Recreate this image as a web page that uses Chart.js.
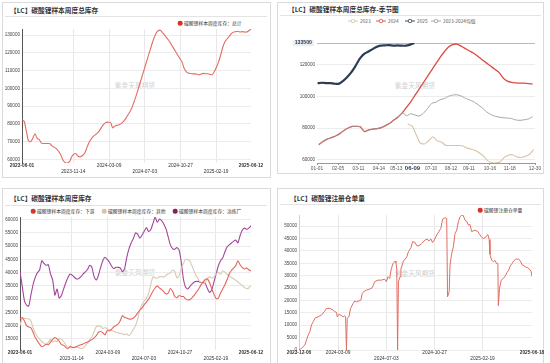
<!DOCTYPE html>
<html>
<head>
<meta charset="utf-8">
<script src="https://cdn.jsdelivr.net/npm/chart.js@4.4.1/dist/chart.umd.min.js"></script>
<style>
  body { margin: 0; width: 550px; height: 363px; overflow: hidden; background: #fff; position: relative;
         font-family: "Noto Sans CJK SC", "Liberation Sans", sans-serif; }
  .panel { position: absolute; border: 1px solid #dadada; box-sizing: border-box; }
  .title { position: absolute; font-size: 6.7px; font-weight: bold; color: #333; white-space: nowrap; line-height: 1; transform: translateY(-50%); }
  .sep { position: absolute; height: 0; border-top: 1px solid #e3e3e3; }
  .wm { position: absolute; font-size: 6.7px; color: #cfcfcf; white-space: nowrap; line-height: 1; transform: translate(-50%, -50%); }
  .leg { position: absolute; font-size: 4.8px; color: #333; white-space: nowrap; line-height: 1; transform: translateY(-50%); }
  .dot { position: absolute; width: 4.6px; height: 4.6px; border-radius: 50%; transform: translate(-50%, -50%); }
  .icon { position: absolute; transform: translate(-50%, -50%); }
  canvas { position: absolute; }
</style>
</head>
<body>
<!-- panel frames -->
<div class="panel" style="left:2px;top:2px;width:269px;height:176px"></div>
<div class="panel" style="left:277px;top:2px;width:267px;height:172px"></div>
<div class="panel" style="left:2px;top:188px;width:269px;height:180px"></div>
<div class="panel" style="left:277px;top:188px;width:267px;height:180px"></div>

<div class="title" style="left:10px;top:10px">【LC】碳酸锂样本周度总库存</div>
<div class="title" style="left:288px;top:9px">【LC】碳酸锂样本周度总库存-季节图</div>
<div class="title" style="left:10px;top:198px">【LC】碳酸锂样本周度库存</div>
<div class="title" style="left:290px;top:198px">【LC】碳酸锂注册仓单量</div>

<div class="sep" style="left:5px;top:16px;width:262px"></div>
<div class="sep" style="left:280px;top:15px;width:261px"></div>
<div class="sep" style="left:5px;top:205px;width:262px"></div>
<div class="sep" style="left:280px;top:204px;width:261px"></div>

<div class="wm" style="left:135px;top:85px">紫金天风期货</div>
<div class="wm" style="left:415px;top:85px">紫金天风期货</div>
<div class="wm" style="left:135px;top:272px">紫金天风期货</div>
<div class="wm" style="left:415px;top:273px">紫金天风期货</div>

<!-- legends -->
<div class="dot" style="left:180px;top:23px;background:#d7312a"></div>
<div class="leg" style="left:184px;top:23px">碳酸锂样本周度库存：总计</div>

<div class="dot" style="left:33px;top:211px;background:#d9352a"></div>
<div class="leg" style="left:37px;top:211px">碳酸锂样本周度库存：下游</div>
<div class="dot" style="left:104px;top:211px;background:#d6c3aa"></div>
<div class="leg" style="left:108px;top:211px">碳酸锂样本周度库存：其他</div>
<div class="dot" style="left:175px;top:211px;background:#8c1c5c"></div>
<div class="leg" style="left:179px;top:211px">碳酸锂样本周度库存：冶炼厂</div>

<div class="dot" style="left:480px;top:210px;background:#d7312a"></div>
<div class="leg" style="left:484px;top:210px">碳酸锂注册仓单量</div>

<div id="seasonLegend"></div>

<canvas id="c1" width="265" height="159" style="left:4px;top:17px"></canvas>
<canvas id="c2" width="263" height="155" style="left:279px;top:17px"></canvas>
<canvas id="c3" width="265" height="157" style="left:4px;top:206px"></canvas>
<canvas id="c4" width="268" height="158" style="left:279px;top:205px"></canvas>

<script>
// ---- data ----
// weekly sample inventory, every Thursday starting 2023-06-01
const totalStart = '2023-06-01';
const totalStock = [
  82500, 81500, 76000, 70500, 70000, 72000, 74500, 72000, 71200, 69200,
  69000, 69000, 69000, 68800, 67500, 66800, 66000, 64500, 62500, 59500,
  58200, 58000, 58800, 61500, 63000, 63200, 61800, 61500, 62200, 63500,
  66500, 69500, 71500, 73000, 74000, 75000, 76500, 78500, 80000, 81000,
  81000, 80800, 77800, 78800, 79300, 79600, 80300, 81500, 83000, 85000,
  87000, 89500, 93000, 96500, 100500, 104500, 108500, 112500, 116500, 120500,
  124500, 128000, 131000, 132500, 132800, 131500, 130000, 128500, 127000, 125000,
  123000, 121000, 119000, 117000, 115000, 111500, 109500, 108700, 108400, 108200,
  108200, 108000, 107700, 108200, 108500, 108300, 108300, 107900, 107800, 109500,
  112000, 115000, 119000, 123500, 126500, 128000, 129500, 131000, 131800, 132000,
  132200, 131800, 132000, 131800, 131800, 132500, 133500
];
const downstream = [
  22600, 23000, 21800, 20000, 19500, 19200, 17500, 15500, 14200, 13000,
  12000, 12400, 13000, 12800, 13800, 14800, 15500, 15000, 14100, 12800,
  12600, 11800, 11300, 12200, 11800, 11800, 12200, 12500, 12800, 13100,
  13500, 13800, 14300, 14700, 15400, 16200, 17500, 17800, 17300, 16500,
  18100, 18000, 18600, 19500, 20000, 20600, 21800, 23800, 23100, 22900,
  22500, 22500, 22900, 23600, 24800, 25800, 26700, 27900, 28900, 30000,
  31500, 33000, 34200, 35000, 34200, 33600, 32800, 32000, 32300, 34000,
  33000, 31000, 30500, 31400, 31000, 31000, 30100, 29700, 29900, 30600,
  31500, 32700, 33800, 35300, 36400, 37400, 37600, 36200, 33800, 31800,
  30200, 30300, 32300, 33800, 35400, 37300, 39500, 40800, 41700, 42600,
  44500, 43000, 41900, 41400, 41800, 41100, 40600
];
const others = [
  20000, 23000, 22800, 22600, 22600, 21800, 19200, 17200, 15900, 14900,
  14000, 13400, 12900, 13700, 14900, 13800, 14300, 13900, 15000, 14900,
  14000, 12800, 11700, 11700, 11800, 11700, 11800, 11700, 11300, 11500,
  12500, 13400, 14500, 15700, 17700, 19600, 19900, 19700, 18900, 19300,
  18800, 18500, 18200, 17900, 17500, 17300, 17000, 16900, 16600, 16900,
  16200, 17200, 18600, 20000, 22400, 26000, 28000, 29300, 30400, 32000,
  35500, 38400, 38000, 37900, 38500, 38500, 38300, 39000, 39600, 39800,
  41000, 40500, 38000, 38800, 41500, 43500, 45000, 44900, 44300, 42400,
  40300, 38600, 37200, 36400, 35900, 36400, 37700, 38400, 37900, 38400,
  39500, 40100, 39400, 40700, 40200, 39400, 38800, 38200, 37700, 37100,
  36500, 35800, 35100, 34400, 34000, 34200, 35200
];
const smelter = [
  40400, 35000, 29500, 27700, 27400, 31500, 35500, 38200, 40000, 41000,
  44500, 43500, 42800, 43000, 39500, 37200, 31500, 33800, 30400, 31400,
  33800, 36200, 38200, 39500, 39000, 38200, 37600, 37800, 38500, 39500,
  40300, 41200, 42800, 42000, 38500, 37200, 39000, 42000, 44500, 45800,
  45000, 44000, 42500, 41500, 42000, 42000, 41800, 40300, 41500, 45800,
  49000, 51200, 52800, 55000, 54500, 53000, 54200, 55600, 57000, 55500,
  56200, 58500, 61000, 59000, 60200, 59600, 58300, 56500, 53500, 50500,
  49100, 48800, 49500, 48500, 44000, 37500, 34500, 33800, 34800, 35800,
  36500, 36700, 36600, 36300, 36300, 36000, 34000, 32500, 33500, 36500,
  39500, 42500, 44500, 45500, 47800, 49700, 50500, 51200, 51800, 52300,
  51200, 54000, 56000, 56800, 56400, 56800, 57700
];
const dateTicks = ['2023-06-01', '2023-11-14', '2024-03-09', '2024-07-03', '2024-10-27', '2025-02-19', '2025-06-12'];
const totalYTicks = [60000, 70000, 80000, 90000, 100000, 110000, 120000, 130000];
const stockYTicks = [15000, 20000, 25000, 30000, 35000, 40000, 45000, 50000, 55000, 60000];

const seasonTicks = ['01-01', '02-05', '03-11', '04-14', '05-13', '06-09', '07-10', '08-12', '09-11', '10-16', '11-18', '12-30'];
const seasonYTicks = [60000, 80000, 100000, 120000, 133500];
const seasonNow = '06-09';

// registered warrants: day offsets from warrantStart and values
const warrantStart = '2023-12-06';
const warrantDays = [
  0, 6, 14, 22, 26, 30, 34, 39, 46, 54, 62, 66, 74, 82, 86, 90, 92, 96, 100, 106,
  110, 112, 114, 116, 120, 124, 130, 134, 138, 144, 149, 152, 157, 162, 170, 176, 182, 190, 198, 206,
  210, 214, 218, 222, 226, 231, 233, 235, 237, 239, 243, 245, 251, 255, 259, 263, 269, 273, 279, 283,
  288, 295, 303, 308, 312, 317, 321, 325, 331, 337, 341, 345, 351, 355, 357, 361, 363, 367, 371, 375,
  379, 383, 387, 391, 395, 399, 403, 407, 411, 415, 423, 430, 433, 438, 443, 447, 451, 454, 457, 459,
  463, 467, 471, 475, 478, 479, 482, 486, 492, 496, 500, 504, 508, 512, 516, 521, 528, 532, 536, 544,
  550, 556, 558, 560
];
const warrantValues = [
  0, 700, 2000, 6000, 7400, 10100, 11400, 13000, 13400, 14100, 15700, 16800, 16800, 16100, 15500, 15200, 13400, 14400, 14100, 13400,
  13800, 13400, 0, 12800, 13400, 16800, 18800, 19800, 19500, 19800, 20200, 22800, 23800, 24200, 24600, 25100, 27600, 28200, 28200, 28600,
  27600, 29600, 28900, 32900, 34900, 35900, 35300, 32700, 0, 27600, 29600, 32700, 35900, 36700, 37600, 39700, 41300, 43700, 43400, 42100,
  42100, 43000, 44400, 44800, 44000, 44800, 43400, 44400, 46400, 48000, 49100, 52800, 53400, 53100, 21500, 23500, 34300, 39000, 41700, 47000,
  48400, 51700, 53800, 54400, 54200, 52400, 52000, 50400, 50700, 47800, 48400, 47800, 47000, 45700, 45000, 45300, 46100, 46600, 44600, 38600,
  36300, 35600, 36200, 34900, 34900, 17900, 24900, 28200, 29000, 30000, 31300, 32300, 34000, 34900, 35900, 36700, 36700, 35900, 34500, 33600,
  33200, 32300, 31600, 29600
];
const warrantTicks = ['2023-12-06', '2024-03-09', '2024-07-03', '2024-10-27', '2025-02-19', '2025-06-18'];
const warrantYTicks = [0, 5000, 10000, 15000, 20000, 25000, 30000, 35000, 40000, 45000, 50000];

// ---- helpers ----
const DAY = 86400000;
const dayNum = s => { const [y, m, d] = s.split('-').map(Number); return Date.UTC(y, m - 1, d) / DAY; };
const fmtDay = n => new Date(n * DAY).toISOString().slice(0, 10);
const MONTH_START = [0, 31, 59, 90, 120, 151, 181, 212, 243, 273, 304, 334];
const seasonDay = md => { const [m, d] = md.split('-').map(Number); return MONTH_START[m - 1] + d - 1; };

Chart.defaults.font.family = '"Liberation Sans", Arial, sans-serif';
Chart.defaults.color = '#444';

const t0 = dayNum(totalStart);
const weekly = arr => arr.map((v, i) => ({ x: t0 + 7 * i, y: v }));

function dateScale(dates, lower) {
  const vals = dates.map(dayNum);
  const last = vals.length - 1;
  return {
    type: 'linear', min: vals[0], max: vals[last],
    afterBuildTicks: s => { s.ticks = vals.map(v => ({ value: v })); },
    afterFit: s => { s.height = 13; s.paddingLeft = 0; s.paddingRight = 0; },
    grid: { drawTicks: false, color: c => (c.index === 0 || c.index === last) ? 'rgba(0,0,0,0)' : '#e8e8e8' },
    border: { display: false },
    ticks: {
      autoSkip: false, maxRotation: 0, padding: 0, color: '#333',
      font: c => ({ size: 4.8, weight: (c.index === 0 || c.index === last) ? 'bold' : 'normal' }),
      callback: (v, i) => lower.includes(i) ? ['', fmtDay(v)] : fmtDay(v)
    }
  };
}

function valueScale(min, max, ticks, width, axisColor) {
  return {
    min, max,
    afterBuildTicks: s => { s.ticks = ticks.map(v => ({ value: v })); },
    afterFit: s => { s.width = width; s.paddingTop = 0; s.paddingBottom = 0; },
    grid: { drawTicks: false, color: '#ececec' },
    border: { display: !!axisColor, color: axisColor || '#ccc', width: 1 },
    ticks: { padding: 2, color: '#444', font: { size: 4.6 }, callback: v => String(v) }
  };
}

function line(data, color, width, tension) {
  return { data, borderColor: color, backgroundColor: color, borderWidth: width, pointRadius: 0, tension: tension, fill: false };
}

function baseOptions(pad) {
  return {
    responsive: false, animation: false, events: [],
    layout: { padding: pad },
    plugins: { legend: { display: false }, tooltip: { enabled: false } }
  };
}

// ---- chart 1: total stock ----
new Chart(document.getElementById('c1'), {
  type: 'line',
  data: { datasets: [line(weekly(totalStock), '#e36c63', 1.1, 0.25)] },
  options: Object.assign(baseOptions({ left: 0, top: 12, right: 18, bottom: 0 }), {
    scales: {
      x: dateScale(dateTicks, [1, 3, 5]),
      y: valueScale(Math.min(...totalStock), Math.max(...totalStock), totalYTicks, 18, '#555')
    }
  })
});

// ---- chart 2: seasonal ----
const byYear = { 2023: [], 2024: [], 2025: [] };
totalStock.forEach((v, i) => {
  const s = fmtDay(t0 + 7 * i);
  byYear[s.slice(0, 4)].push({ x: seasonDay(s.slice(5)), y: v });
});
// 2023-2024 average: same week of year where both years exist, otherwise the 2024 value
const meanSeries = byYear[2024].map(p => {
  const q = byYear[2023].find(q => Math.abs(q.x - p.x) <= 3);
  return { x: p.x, y: q ? (p.y + q.y) / 2 : p.y };
});
const seasonColors = { 2023: '#d9c2a4', 2024: '#dd4a40', 2025: '#2d3c56', mean: '#9a9a9a' };

const seasonLegend = [
  { name: '2023', color: seasonColors[2023], cx: 353, tx: 360 },
  { name: '2024', color: seasonColors[2024], cx: 381, tx: 388 },
  { name: '2025', color: seasonColors[2025], cx: 410, tx: 417 },
  { name: '2023-2024均值', color: seasonColors.mean, cx: 436, tx: 443 }
];
document.getElementById('seasonLegend').innerHTML = seasonLegend.map(it =>
  `<svg class="icon" width="10" height="5" style="left:${it.cx}px;top:21px"><line x1="0" y1="2.5" x2="10" y2="2.5" stroke="${it.color}" stroke-width="0.9"/><circle cx="5" cy="2.5" r="1.8" fill="#fff" stroke="${it.color}" stroke-width="0.8"/></svg>` +
  `<div class="leg" style="left:${it.tx}px;top:21px;color:#555">${it.name}</div>`).join('');

const seasonHighlight = {
  id: 'seasonHighlight',
  afterDraw(chart) {
    const { ctx, scales: { x, y }, chartArea } = chart;
    const top = seasonYTicks[seasonYTicks.length - 1];
    const py = y.getPixelForValue(top);
    ctx.save();
    ctx.font = 'bold 5.2px "Liberation Sans"';
    const label = String(top);
    const w = ctx.measureText(label).width + 4;
    ctx.fillStyle = '#eceef2';
    ctx.fillRect(chartArea.left - 3 - w, py - 3.2, w, 6.4);
    ctx.fillStyle = '#2d3c56';
    ctx.textAlign = 'right';
    ctx.textBaseline = 'middle';
    ctx.fillText(label, chartArea.left - 5, py);

    const px = x.getPixelForValue(seasonDay(seasonNow));
    ctx.font = 'bold 6px "Liberation Sans"';
    const w2 = ctx.measureText(seasonNow).width + 4;
    ctx.fillStyle = '#fff';
    ctx.fillRect(px - w2 / 2, chartArea.bottom + 2, w2, 8);
    ctx.fillStyle = '#2d3c56';
    ctx.textAlign = 'center';
    ctx.fillText(seasonNow, px, chartArea.bottom + 5.5);
    ctx.restore();
  }
};

const seasonY = valueScale(Math.min(...totalStock), Math.max(...totalStock), seasonYTicks, 38, null);
seasonY.ticks.callback = v => v === seasonYTicks[seasonYTicks.length - 1] ? '' : String(v);
seasonY.grid.color = c => c.tick && c.tick.value === seasonYTicks[seasonYTicks.length - 1] ? '#bbb' : '#ececec';

new Chart(document.getElementById('c2'), {
  type: 'line',
  data: {
    datasets: [
      line(meanSeries, seasonColors.mean, 0.9, 0.2),
      line(byYear[2023], seasonColors[2023], 1.1, 0.25),
      line(byYear[2024], seasonColors[2024], 1.3, 0.25),
      line(byYear[2025], seasonColors[2025], 2.2, 0.25)
    ]
  },
  options: Object.assign(baseOptions({ left: 0, top: 26, right: 7, bottom: 0 }), {
    scales: {
      x: {
        type: 'linear', min: 0, max: 363,
        afterBuildTicks: s => { s.ticks = seasonTicks.map(md => ({ value: seasonDay(md) })); },
        afterFit: s => { s.height = 9; s.paddingLeft = 0; s.paddingRight = 0; },
        grid: { drawOnChartArea: false, drawTicks: true, tickLength: 2, color: '#999' },
        border: { display: true, color: '#999' },
        ticks: { autoSkip: false, maxRotation: 0, padding: 1, color: '#555', font: { size: 4.8 }, callback: (v, i) => seasonTicks[i] }
      },
      y: seasonY
    }
  }),
  plugins: [seasonHighlight]
});

// ---- chart 3: stock by holder ----
new Chart(document.getElementById('c3'), {
  type: 'line',
  data: {
    datasets: [
      line(weekly(downstream), '#e2665c', 1.1, 0.2),
      line(weekly(others), '#d9c9b2', 1.1, 0.2),
      line(weekly(smelter), '#a2479a', 1.1, 0.2)
    ]
  },
  options: Object.assign(baseOptions({ left: 0, top: 11, right: 18, bottom: 0 }), {
    scales: {
      x: dateScale(dateTicks, [1, 3, 5]),
      y: valueScale(10800, 61000, stockYTicks, 16, '#555')
    }
  })
});

// ---- chart 4: registered warrants ----
const w0 = dayNum(warrantStart);
new Chart(document.getElementById('c4'), {
  type: 'line',
  data: { datasets: [line(warrantDays.map((d, i) => ({ x: w0 + d, y: warrantValues[i] })), '#e36c63', 1, 0)] },
  options: Object.assign(baseOptions({ left: 0, top: 10, right: 15, bottom: 0 }), {
    scales: {
      x: dateScale(warrantTicks, [2, 4]),
      y: valueScale(0, 54500, warrantYTicks, 20, '#d0d0d0')
    }
  })
});
</script>
</body>
</html>
